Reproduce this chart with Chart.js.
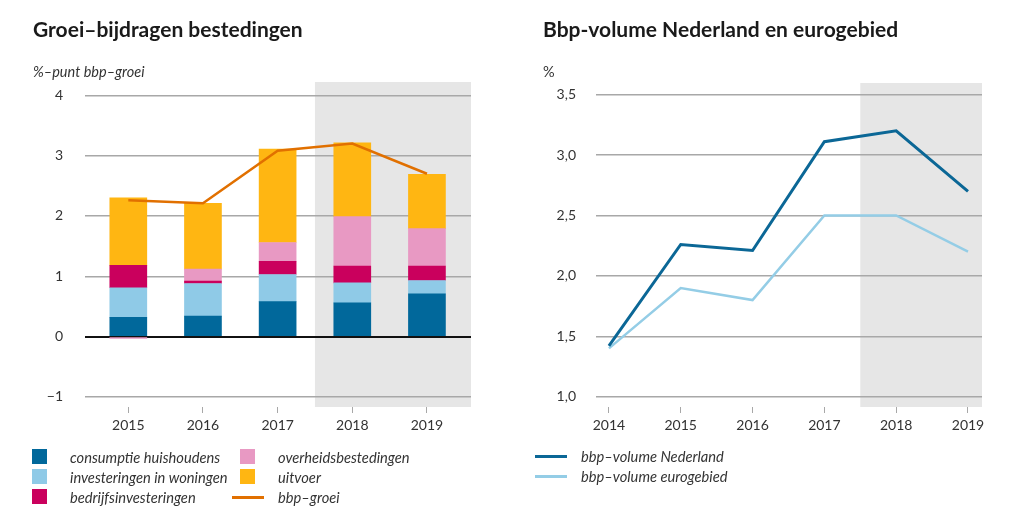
<!DOCTYPE html>
<html>
<head>
<meta charset="utf-8">
<script src="https://cdn.jsdelivr.net/npm/chart.js@4/dist/chart.umd.min.js"></script>
<style>
  html, body { margin: 0; padding: 0; background: #fff; }
  #wrap { position: relative; width: 1024px; height: 513px; overflow: hidden; font-family: Lato, "Open Sans", sans-serif; color: #222; }
  canvas { position: absolute; top: 0; }
  .title { position: absolute; font-weight: bold; font-size: 21px; line-height: 20px; color: #1a1a1a; white-space: nowrap; }
  .unit { position: absolute; font-style: italic; font-size: 14.5px; line-height: 14px; color: #333; white-space: nowrap; }
  .leg { position: absolute; height: 20px; display: flex; align-items: center; font-style: italic; font-size: 14.7px; color: #333; white-space: nowrap; }
  .box { position: absolute; width: 15px; height: 15px; }
  .ln { position: absolute; height: 3px; }
</style>
</head>
<body>
<div id="wrap">
  <canvas id="c1" width="512" height="513" style="left:0;width:512px;height:513px"></canvas>
  <canvas id="c2" width="512" height="513" style="left:512px;width:512px;height:513px"></canvas>

  <div class="title" style="left:33px;top:19px">Groei–bijdragen bestedingen</div>
  <div class="title" style="left:543px;top:19px">Bbp-volume Nederland en eurogebied</div>
  <div class="unit" style="left:33px;top:65px">%–punt bbp–groei</div>
  <div class="unit" style="left:543px;top:65px;font-style:normal">%</div>

  <div id="leg1"></div>
  <div id="leg2"></div>
</div>
<script>
// ---- data ----
const years = [2015, 2016, 2017, 2018, 2019];
const consumptieHuishoudens = [0.32, 0.34, 0.58, 0.56, 0.71];
const investeringenWoningen = [0.49, 0.54, 0.45, 0.33, 0.22];
const bedrijfsinvesteringen = [0.37, 0.04, 0.22, 0.28, 0.24];
const overheidsbestedingen = [-0.03, 0.20, 0.31, 0.82, 0.62];
const uitvoer = [1.12, 1.09, 1.55, 1.22, 0.90];
const bbpGroei = [2.26, 2.21, 3.08, 3.2, 2.7];
const leftTicks = [-1, 0, 1, 2, 3, 4];

const years2 = [2014, 2015, 2016, 2017, 2018, 2019];
const bbpNederland = [1.42, 2.26, 2.21, 3.11, 3.2, 2.7];
const bbpEurogebied = [1.4, 1.9, 1.8, 2.5, 2.5, 2.2];
const rightTicks = [1.0, 1.5, 2.0, 2.5, 3.0, 3.5];

const names = ['consumptie huishoudens', 'investeringen in woningen', 'bedrijfsinvesteringen', 'overheidsbestedingen', 'uitvoer', 'bbp–groei'];
const names2 = ['bbp–volume Nederland', 'bbp–volume eurogebied'];
const colors = ['#01689b', '#8fcae7', '#ca005d', '#e899c3', '#ffb612', '#e17000'];
const colors2 = ['#0b6796', '#94cde6'];

const FONT = 'Lato, "Open Sans", sans-serif';
const GRID = '#a8a8a8';

const bandPlugin = {
  id: 'band',
  beforeDraw(chart, args, opts) {
    const { ctx, chartArea, scales } = chart;
    const x0 = scales.x.getPixelForValue(opts.from);
    ctx.save();
    ctx.fillStyle = '#e6e6e6';
    ctx.fillRect(x0, chartArea.top, chartArea.right - x0, chartArea.bottom - chartArea.top);
    ctx.restore();
  }
};

function pts(xs, ys) { return xs.map((x, i) => ({ x: x, y: ys[i] })); }

const series = [consumptieHuishoudens, investeringenWoningen, bedrijfsinvesteringen, overheidsbestedingen, uitvoer];
const ds1 = series.map((s, i) => ({
  type: 'bar', label: names[i], data: pts(years, s), backgroundColor: colors[i],
  stack: 'bars', barThickness: 37, borderWidth: 0, order: 2
}));
ds1.push({
  type: 'line', label: names[5], data: pts(years, bbpGroei), borderColor: colors[5],
  borderWidth: 2.5, pointRadius: 0, stack: 'line', tension: 0, order: 1
});

new Chart(document.getElementById('c1'), {
  type: 'bar',
  data: { datasets: ds1 },
  plugins: [bandPlugin],
  options: {
    responsive: false, animation: false, devicePixelRatio: 1,
    layout: { padding: { top: 82, right: 41, bottom: 70, left: 0 } },
    plugins: { legend: { display: false }, tooltip: { enabled: false }, band: { from: 2017.5 } },
    scales: {
      x: {
        type: 'linear', min: 2014.42, max: 2019.59, offset: false,
        afterBuildTicks: s => { s.ticks = years.map(v => ({ value: v })); },
        afterFit: s => { s.height = 36; },
        grid: { offset: false, drawOnChartArea: false, drawTicks: true, tickLength: 6, color: GRID, lineWidth: 1 },
        border: { display: false },
        ticks: { padding: 4, color: '#333', font: { family: FONT, size: 14 }, callback: v => String(v) }
      },
      y: {
        stacked: true, min: -1.166, max: 4.22,
        afterBuildTicks: s => { s.ticks = leftTicks.map(v => ({ value: v })); },
        afterFit: s => { s.width = 85; },
        grid: {
          drawTicks: false,
          color: c => (c.tick && c.tick.value === 0) ? '#111' : GRID,
          lineWidth: c => (c.tick && c.tick.value === 0) ? 2 : 1.5
        },
        border: { display: false },
        ticks: { padding: 22, color: '#333', font: { family: FONT, size: 14 },
          callback: v => (v < 0 ? '\u2212' + Math.abs(v) : String(v)) }
      }
    }
  }
});

new Chart(document.getElementById('c2'), {
  type: 'line',
  data: { datasets: [
    { label: names2[0], data: pts(years2, bbpNederland), borderColor: colors2[0], borderWidth: 3, pointRadius: 0, tension: 0 },
    { label: names2[1], data: pts(years2, bbpEurogebied), borderColor: colors2[1], borderWidth: 2.5, pointRadius: 0, tension: 0 }
  ] },
  plugins: [bandPlugin],
  options: {
    responsive: false, animation: false, devicePixelRatio: 1,
    layout: { padding: { top: 83, right: 42, bottom: 70, left: 0 } },
    plugins: { legend: { display: false }, tooltip: { enabled: false }, band: { from: 2017.5 } },
    scales: {
      x: {
        type: 'linear', min: 2013.82, max: 2019.195, offset: false,
        afterBuildTicks: s => { s.ticks = years2.map(v => ({ value: v })); },
        afterFit: s => { s.height = 36; },
        grid: { offset: false, drawOnChartArea: false, drawTicks: true, tickLength: 6, color: GRID, lineWidth: 1 },
        border: { display: false },
        ticks: { padding: 4, color: '#333', font: { family: FONT, size: 14 }, callback: v => String(v) }
      },
      y: {
        min: 0.915, max: 3.596,
        afterBuildTicks: s => { s.ticks = rightTicks.map(v => ({ value: v })); },
        afterFit: s => { s.width = 84; },
        grid: { drawTicks: false, color: GRID, lineWidth: 1.5 },
        border: { display: false },
        ticks: { padding: 20, color: '#333', font: { family: FONT, size: 14 },
          callback: v => v.toFixed(1).replace('.', ',') }
      }
    }
  }
});

// ---- HTML legends ----
const leg1 = document.getElementById('leg1');
const rowsY = [447, 467, 487];
const col1 = [0, 1, 2], col2 = [3, 4, 5];
col1.forEach((k, r) => {
  leg1.insertAdjacentHTML('beforeend',
    `<div class="box" style="left:32px;top:${rowsY[r] + 2}px;background:${colors[k]}"></div>` +
    `<div class="leg" style="left:70px;top:${rowsY[r]}px">${names[k]}</div>`);
});
col2.forEach((k, r) => {
  const mark = k === 5
    ? `<div class="ln" style="left:232px;width:32px;top:${rowsY[r] + 9}px;background:${colors[k]}"></div>`
    : `<div class="box" style="left:240px;top:${rowsY[r] + 2}px;background:${colors[k]}"></div>`;
  leg1.insertAdjacentHTML('beforeend', mark + `<div class="leg" style="left:278px;top:${rowsY[r]}px">${names[k]}</div>`);
});
const leg2 = document.getElementById('leg2');
names2.forEach((n, r) => {
  leg2.insertAdjacentHTML('beforeend',
    `<div class="ln" style="left:535px;width:32px;top:${rowsY[r] + 8}px;background:${colors2[r]}"></div>` +
    `<div class="leg" style="left:581px;top:${rowsY[r] - 1}px">${n}</div>`);
});
</script>
</body>
</html>
